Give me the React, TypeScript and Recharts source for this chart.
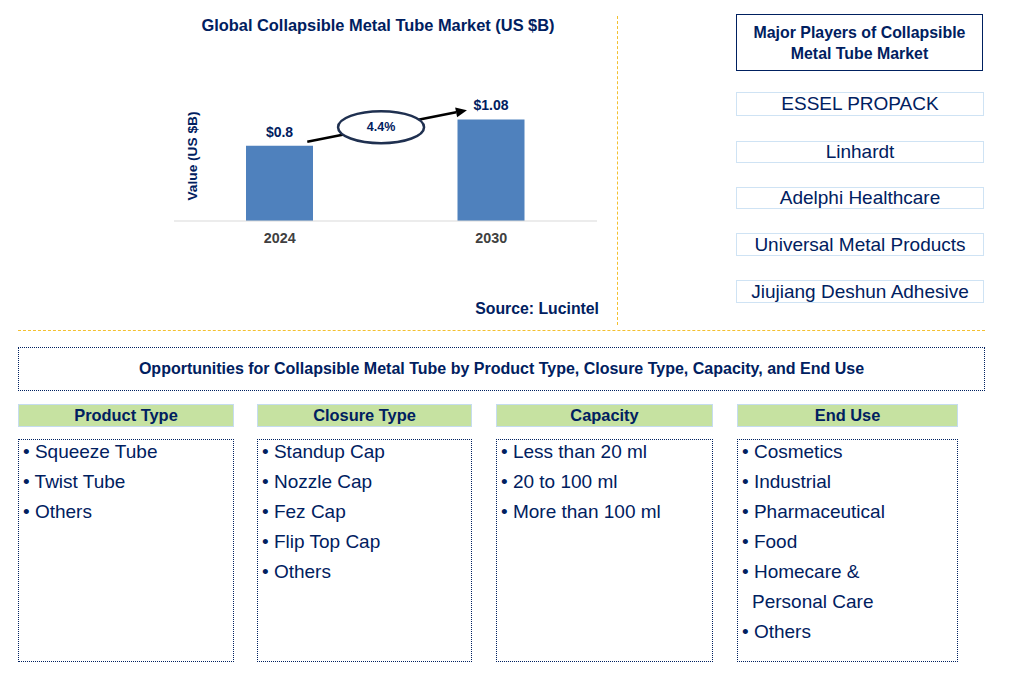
import React from 'react';
import { BarChart, Bar, XAxis, YAxis, LabelList, ReferenceLine } from 'recharts';

const years = ['2024', '2030'];
const values = [0.8, 1.08];
const cagrText = '4.4%';
const arrowFrom = 0.785;
const arrowTo = 1.23;
const chartTitle = 'Global Collapsible Metal Tube Market (US $B)';
const yAxisTitle = 'Value (US $B)';
const sourceText = 'Source: Lucintel';
const playersTitle = ['Major Players of Collapsible', 'Metal Tube Market'];
const players = ['ESSEL PROPACK', 'Linhardt', 'Adelphi Healthcare', 'Universal Metal Products', 'Jiujiang Deshun Adhesive'];
const opportunitiesTitle = 'Opportunities for Collapsible Metal Tube by Product Type, Closure Type, Capacity, and End Use';
const segmentTitles = ['Product Type', 'Closure Type', 'Capacity', 'End Use'];
const productTypes = ['Squeeze Tube', 'Twist Tube', 'Others'];
const closureTypes = ['Standup Cap', 'Nozzle Cap', 'Fez Cap', 'Flip Top Cap', 'Others'];
const capacities = ['Less than 20 ml', '20 to 100 ml', 'More than 100 ml'];
const endUses = ['Cosmetics', 'Industrial', 'Pharmaceutical', 'Food', 'Homecare &\nPersonal Care', 'Others'];

const data = years.map((y, i) => ({ year: y, value: values[i] }));
const segmentLists = [productTypes, closureTypes, capacities, endUses];

const NAVY = '#002060';
const FONT = '"Liberation Sans", Arial, sans-serif';
const GOLD = '#f4c030';

const playerBoxes = [
  { top: 92, h: 24 },
  { top: 141, h: 22 },
  { top: 187, h: 22 },
  { top: 233, h: 23 },
  { top: 280, h: 23 },
];
const columns = [
  { left: 18, w: 216 },
  { left: 257, w: 215 },
  { left: 496, w: 217 },
  { left: 737, w: 221 },
];

const ArrowShape = (props: any) => {
  const { x1, y1, x2, y2 } = props;
  if (x1 == null) return <g />;
  const p = (t: number) => [x1 + (x2 - x1) * t, y1 + (y2 - y1) * t];
  const [sx, sy] = p(0.13);
  const [ex, ey] = p(0.885);
  const [cx, cy] = p(0.479);
  const ang = Math.atan2(ey - sy, ex - sx);
  const L = 11, W = 5;
  const bx = ex - L * Math.cos(ang), by = ey - L * Math.sin(ang);
  const nx = -Math.sin(ang), ny = Math.cos(ang);
  return (
    <g>
      <line x1={sx} y1={sy} x2={bx} y2={by} stroke="#000" strokeWidth={2.5} />
      <polygon points={`${ex},${ey} ${bx + nx * W},${by + ny * W} ${bx - nx * W},${by - ny * W}`} fill="#000" />
      <ellipse cx={cx} cy={cy} rx={43} ry={16} fill="#fff" stroke="#1f3050" strokeWidth={2.5} />
      <text x={cx} y={cy} textAnchor="middle" dominantBaseline="central" fill={NAVY} fontFamily={FONT} fontWeight="bold" fontSize={12.5}>{cagrText}</text>
    </g>
  );
};

export default function App() {
  return (
    <div style={{ position: 'absolute', left: 0, top: 0, width: 1031, height: 685, background: '#fff', fontFamily: FONT, color: NAVY }}>
      <div style={{ position: 'absolute', left: 160, width: 436, top: 16, textAlign: 'center', fontWeight: 'bold', fontSize: 16.4, whiteSpace: 'nowrap' }}>{chartTitle}</div>
      <div style={{ position: 'absolute', left: 0, top: 0 }}>
        <BarChart width={640} height={330} data={data} margin={{ top: 80, right: 43, bottom: 79, left: 174 }}>
          <XAxis dataKey="year" height={30} tickLine={false} tickSize={6} tickMargin={6} axisLine={{ stroke: '#d9d9d9' }} tick={{ fill: '#404040', fontFamily: FONT, fontWeight: 'bold', fontSize: 14.3 }} />
          <YAxis hide domain={[0, 1.5]} />
          <Bar dataKey="value" fill="#4f81bd" barSize={67} isAnimationActive={false}>
            <LabelList dataKey="value" position="top" offset={9} formatter={(v: any) => `$${v}`} fill={NAVY} fontFamily={FONT} fontWeight="bold" fontSize={14} />
          </Bar>
          <ReferenceLine segment={[{ x: years[0], y: arrowFrom }, { x: years[1], y: arrowTo }]} shape={ArrowShape} ifOverflow="visible" />
        </BarChart>
      </div>
      <div style={{ position: 'absolute', left: 192, top: 156, transform: 'translate(-50%,-50%) rotate(-90deg)', whiteSpace: 'nowrap', fontWeight: 'bold', fontSize: 13.7 }}>{yAxisTitle}</div>
      <div style={{ position: 'absolute', right: 1031 - 599, top: 300, fontWeight: 'bold', fontSize: 15.8, whiteSpace: 'nowrap' }}>{sourceText}</div>

      <div style={{ position: 'absolute', left: 617, top: 16, height: 309, borderLeft: `1px dashed ${GOLD}` }} />
      <div style={{ position: 'absolute', left: 18, top: 330, width: 967, borderTop: `1px dashed ${GOLD}` }} />

      <div style={{ position: 'absolute', left: 736, top: 14, width: 245, height: 55, border: `1.5px solid ${NAVY}`, display: 'flex', flexDirection: 'column', alignItems: 'center', justifyContent: 'center', fontWeight: 'bold', fontSize: 15.9, lineHeight: '21px', whiteSpace: 'nowrap' }}>
        {playersTitle.map((t) => <div key={t}>{t}</div>)}
      </div>
      {players.map((p, i) => (
        <div key={p} style={{ position: 'absolute', left: 736, top: playerBoxes[i].top, width: 246, height: playerBoxes[i].h - 2, border: '1.5px solid #cfe3f4', display: 'flex', alignItems: 'center', justifyContent: 'center', fontSize: 19, whiteSpace: 'nowrap' }}>{p}</div>
      ))}

      <div style={{ position: 'absolute', left: 18, top: 347, width: 965, height: 42, border: `1px dotted ${NAVY}`, display: 'flex', alignItems: 'center', justifyContent: 'center', fontWeight: 'bold', fontSize: 16, whiteSpace: 'nowrap' }}>{opportunitiesTitle}</div>

      {columns.map((c, i) => (
        <React.Fragment key={i}>
          <div style={{ position: 'absolute', left: c.left, top: 404, width: c.w - 2, height: 21, background: '#c6e2a1', border: '1px solid #c5dcef', display: 'flex', alignItems: 'center', justifyContent: 'center', fontWeight: 'bold', fontSize: 16.4, whiteSpace: 'nowrap' }}>{segmentTitles[i]}</div>
          <div style={{ position: 'absolute', left: c.left, top: 439, width: c.w - 2, height: 221, border: `1px dotted ${NAVY}` }}>
            {segmentLists[i].map((item, j) => {
              const lines = item.split('\n');
              return lines.map((ln, k) => (
                <div key={`${j}-${k}`} style={{ height: 30, lineHeight: '30px', fontSize: 19, whiteSpace: 'nowrap', paddingLeft: k === 0 ? 4 : 14, marginTop: j === 0 && k === 0 ? -3 : 0 }}>{k === 0 ? `• ${ln}` : ln}</div>
              ));
            })}
          </div>
        </React.Fragment>
      ))}
    </div>
  );
}
